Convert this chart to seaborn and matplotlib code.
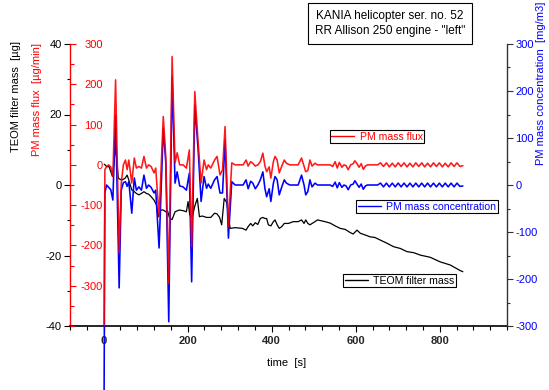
import numpy as np
import pandas as pd
import matplotlib
matplotlib.use("Agg")
import matplotlib.pyplot as plt
import seaborn as sns
from matplotlib.ticker import MultipleLocator
from matplotlib.lines import Line2D

# ---------------- data ----------------
time_s = [1, 3, 7, 12, 17, 22, 28.5, 37, 42, 47, 52, 56, 60, 67, 73, 78, 84, 90, 96, 102,
          107, 113, 120, 124, 132, 142, 148, 155, 163, 170, 175, 181, 189, 197, 204, 209.5,
          217, 225, 232, 239, 245, 249, 255, 264, 270, 277, 283, 289, 297, 305, 313,
          332, 339, 344, 350, 355, 361, 367, 373, 379, 384, 388, 394, 398, 404, 408, 413,
          418, 424, 430, 435, 443, 463, 471, 477, 481, 486, 491, 496, 503, 509, 539,
          545, 551, 556, 561, 567, 572, 577, 582, 588, 594, 598, 603, 608, 613, 618, 623,
          628, 652, 659, 666, 673, 680, 687, 694, 701, 708, 715, 722, 729, 736, 743, 750,
          757, 764, 771, 778, 785, 792, 799, 806, 813, 820, 827, 834, 841, 848, 855]

pm_flux = [-420, -12, -4, 0, -5, -29, 211, -219, -45, 0, 12, -12, 12, -45, 17, -8, -4, -8, 21, -8,
           0, -4, -20, -8, -128, 120, 21, -295, 269, 5, 30, 0, 0, -8, 37, -203,
           182, 54, -45, 12, -12, 0, -8, 12, 21, -25, -12, 95, -153, 5, 0,
           0, 12, -3, 8, 4, -3, 0, 8, 29, -3, -17, -5, -33, 8, 21, 12,
           -20, -3, 12, 4, 0, 0, 17, -3, -17, -14, 12, -3, 4, 0, 0,
           -4, 8, -8, 6, -6, 0, -2, -12, 0, 3, 10, 3, -6, 3, -11, -3,
           0, 0, 5, -4, 5, -5, 4, -5, 5, -4, 5, -5, 4, -5, 5, -4,
           5, -5, 4, -5, 5, -4, 5, -5, 4, -5, 5, -4, 5, -4, -2]

pm_conc = [-480, -17, 0, -5, -10, -32, 149, -219, -11, 5, 7, -3, 7, -60, 15, -11, -4, -11, 21, -7,
           0, -5, -17, -11, -134, 121, 47, -291, 230, 4, 28, -2, -4, -11, 25, -206,
           170, 74, -35, 18, -7, 2, -7, 11, 18, -17, -17, 96, -113, 7, 0,
           0, 11, -8, 8, 4, -8, 0, 11, 28, -8, -25, -8, -35, 4, 18, 11,
           -21, -4, 11, 4, 0, 0, 21, 0, -21, -14, 11, -4, 4, 0, 0,
           -3, 6, -6, 5, -5, 0, -2, -10, 0, 2, 9, 2, -5, 2, -9, -2,
           0, 0, 4, -4, 4, -4, 4, -4, 4, -4, 4, -4, 4, -4, 4, -4,
           4, -4, 4, -4, 4, -4, 4, -4, 4, -4, 4, -4, 4, -3, -2]

teom_t = [1.5, 8, 13, 17, 21, 28.5, 35, 43, 51, 56, 60, 67, 73, 78, 84, 90, 96, 102, 107, 113,
          120, 126, 130, 136, 142, 148, 152, 157, 163, 170, 180, 190, 197, 201, 205, 211, 217,
          223, 228, 235, 245, 255, 264, 270, 276, 281, 287, 293, 301, 313, 330, 339, 344, 350,
          355, 361, 367, 373, 379, 384, 388, 392, 398, 404, 408, 413, 418, 424, 430, 440, 451,
          463, 471, 477, 481, 486, 491, 503, 509, 527, 539, 551, 563, 575, 587, 594, 603, 611,
          623, 634, 646, 658, 674, 690, 706, 722, 738, 754, 777, 801, 825, 849, 855]
teom_mass = [5.9, 5.2, 5.2, 3.8, 2.4, 11, 1.9, 1.4, 1.9, 2.8, 1.4, -1.4, -1.9, -2.4, -2.8, -2.4,
             -1.9, -2.4, -2.6, -3.3, -4.3, -5.7, -9, -7.1, -7.1, -7.6, -7.3, -9.4, -9.8, -7.6,
             -7.1, -7.3, -7.6, -4.7, -8.5, -9, -6, -3.8, -9, -8.8, -9.2, -9.2, -8, -8.2, -9.2,
             -11.3, -3.8, -5, -12.3, -12.1, -12.3, -12.8, -11.8, -10.9, -11.6, -10.7, -11.2,
             -9.5, -9.2, -9.5, -9.5, -11.3, -11.6, -10.4, -9.9, -11.3, -12.3, -11.8, -10.9,
             -10.9, -10.4, -10.4, -9.9, -10.9, -9.9, -10.9, -11.3, -10.4, -9.9, -10.4, -10.8,
             -11.6, -12.3, -12.6, -13.5, -13.9, -12.8, -13.7, -14.2, -14.7, -14.9, -15.6, -16.5,
             -17.5, -18, -18.9, -19.2, -19.9, -20.5, -21.8, -22.7, -24.3, -24.6]

title_lines = ['KANIA helicopter ser. no. 52', 'RR Allison 250 engine - "left"']

df_pm = pd.DataFrame({"time": time_s, "flux": pm_flux, "conc": pm_conc})
df_teom = pd.DataFrame({"time": teom_t, "mass": teom_mass})

# ---------------- style ----------------
sns.set_theme(style="ticks")
plt.rcParams["font.family"] = ["Liberation Sans", "DejaVu Sans"]
plt.rcParams["text.color"] = "black"
plt.rcParams["axes.labelcolor"] = "black"
plt.rcParams["axes.unicode_minus"] = False

W, H = 549, 390
fig = plt.figure(figsize=(W / 100, H / 100), dpi=100)
fig.patch.set_facecolor("white")
L, R, T, B = 70, 507, 44, 326
ax = fig.add_axes([L / W, 1 - B / H, (R - L) / W, (B - T) / H])
ax_blue = ax.twinx()
ax_red = ax.twinx()
ax.set_zorder(1); ax_blue.set_zorder(2); ax_red.set_zorder(3)
for a in (ax_blue, ax_red):
    a.patch.set_visible(False)

# ---------------- lines ----------------
sns.lineplot(data=df_teom, x="time", y="mass", ax=ax, color="black", linewidth=0.9)
sns.lineplot(data=df_pm, x="time", y="conc", ax=ax_blue, color="#0000ff", linewidth=1.15,
             clip_on=False)
sns.lineplot(data=df_pm, x="time", y="flux", ax=ax_red, color="#ff0000", linewidth=1.15,
             alpha=0.9)

for a in (ax, ax_blue, ax_red):
    a.set_xlabel("")
    a.set_ylabel("")
ax.set_xlim(-80, 960)
ax.set_ylim(-40, 40)
ax_red.set_ylim(-400, 300)
ax_blue.set_ylim(-300, 300)

# ---------------- spines ----------------
ax.spines["top"].set_visible(False)
ax.spines["right"].set_visible(False)
ax.spines["left"].set_color("#ff0000")
ax.spines["left"].set_linewidth(1.0)
ax.spines["bottom"].set_color("black")
ax.spines["bottom"].set_linewidth(1.2)
for s in ax_red.spines.values():
    s.set_visible(False)
for k, s in ax_blue.spines.items():
    s.set_visible(k == "right")
ax_blue.spines["right"].set_color("#333333")
ax_blue.spines["right"].set_linewidth(1.0)

# ---------------- ticks ----------------
ax.xaxis.set_major_locator(MultipleLocator(200))
ax.xaxis.set_minor_locator(MultipleLocator(40))
ax.tick_params(axis="x", which="major", direction="out", length=4, width=0.8,
               color="black", labelsize=8, pad=3)
ax.tick_params(axis="x", which="minor", direction="out", length=3, width=0.8, color="black")
for lab in ax.get_xticklabels():
    lab.set_fontweight("bold")

ax.yaxis.set_major_locator(MultipleLocator(20))
ax.yaxis.set_minor_locator(MultipleLocator(10))
ax.tick_params(axis="y", which="major", left=True, right=False, direction="out", length=4.3,
               width=0.8, color="black", labelsize=8, pad=1.5, labelcolor="black")
ax.tick_params(axis="y", which="minor", left=True, right=False, direction="out", length=2.5,
               width=0.8, color="black")

ax_red.yaxis.set_ticks_position("left")
ax_red.yaxis.set_minor_locator(MultipleLocator(50))
ax_red.set_yticks([-300, -200, -100, 0, 100, 200, 300])
ax_red.set_ylim(-400, 300)
ax_red.tick_params(axis="y", which="major", left=True, right=False, labelleft=True,
                   labelright=False, direction="in", length=4.5, width=0.8,
                   color="#ff0000", labelcolor="#ff0000", labelsize=8, pad=-23.5)
ax_red.tick_params(axis="y", which="minor", left=True, right=False, direction="in",
                   length=3, width=0.8, color="#ff0000")

ax_blue.yaxis.set_major_locator(MultipleLocator(100))
ax_blue.yaxis.set_minor_locator(MultipleLocator(50))
ax_blue.tick_params(axis="y", which="major", right=True, left=False, direction="out",
                    length=4, width=0.8, color="#333333", labelcolor="#0000ff",
                    labelsize=8, pad=2)
ax_blue.tick_params(axis="y", which="minor", right=True, left=False, direction="out",
                    length=2.5, width=0.8, color="#333333")

# ---------------- labels ----------------
fig.text(16 / W, 1 - 96 / H, "TEOM filter mass  [µg]", rotation=90, ha="center",
         va="center", fontsize=8, color="black")
fig.text(37 / W, 1 - 100 / H, "PM mass flux  [µg/min]", rotation=90, ha="center",
         va="center", fontsize=8, color="#ff0000")
fig.text(541 / W, 1 - 83 / H, "PM mass concentration  [mg/m3]", rotation=90, ha="center",
         va="center", fontsize=8, color="#0000ff")
fig.text(287 / W, 1 - 363 / H, "time  [s]", ha="center", va="center", fontsize=8,
         color="black")

fig.text(390 / W, 1 - 23.5 / H, "\n".join(title_lines), ha="center", va="center",
         fontsize=8.5, linespacing=1.4, color="black",
         bbox=dict(boxstyle="square,pad=0.55", fc="white", ec="black", lw=0.8))

# ---------------- legends ----------------
def add_leg(label, color, cx, cy):
    h = Line2D([], [], color=color, lw=1.0)
    leg = fig.legend(handles=[h], labels=[label], loc="center",
                     bbox_to_anchor=(cx / W, 1 - cy / H), bbox_transform=fig.transFigure,
                     frameon=True, fancybox=False, edgecolor="black", framealpha=1,
                     fontsize=7.6, handlelength=2.2, handletextpad=0.5, borderpad=0.15,
                     borderaxespad=0, labelcolor=color)
    leg.get_frame().set_linewidth(0.8)
    return leg

add_leg("PM mass flux", "#ff0000", 377, 136.5)
add_leg("PM mass concentration", "#0000ff", 427, 206.5)
add_leg("TEOM filter mass", "black", 399.5, 280.5)

fig.savefig("out.png", dpi=100, facecolor="white")
